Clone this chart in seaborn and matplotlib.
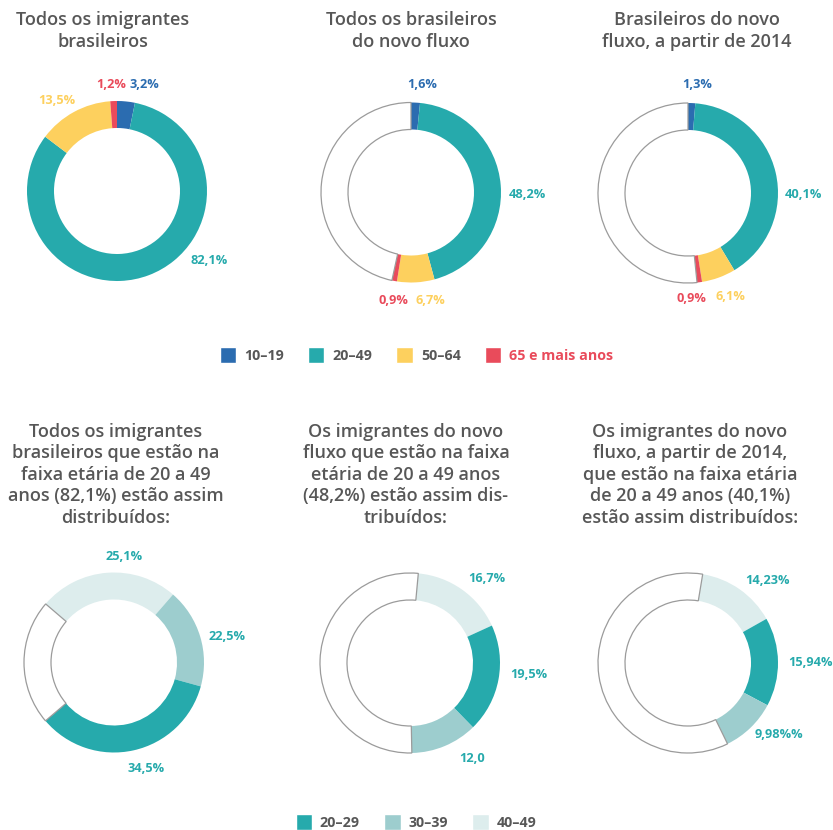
import matplotlib
matplotlib.use("Agg")
import matplotlib.pyplot as plt
from matplotlib.patches import Patch
import seaborn as sns

# faixas etárias (gráficos de cima)
faixas = ["10–19", "20–49", "50–64", "65 e mais anos"]
todos = [3.2, 82.1, 13.5, 1.2]
novo_fluxo = [1.6, 44.2, 6.7, 0.9]   # no original o arco 20-49 é menor que o rótulo 48,2%
desde_2014 = [1.3, 40.1, 6.1, 0.9]
rot_todos = ["3,2%", "82,1%", "13,5%", "1,2%"]
rot_novo_fluxo = ["1,6%", "48,2%", "6,7%", "0,9%"]
rot_desde_2014 = ["1,3%", "40,1%", "6,1%", "0,9%"]

# subfaixas de 20 a 49 anos (gráficos de baixo)
subfaixas = ["20–29", "30–39", "40–49"]
sub_todos = [34.5, 17.9, 25.1]       # no original o arco 30-39 é menor que o rótulo 22,5%
sub_novo_fluxo = [19.5, 12.0, 16.7]
sub_desde_2014 = [15.94, 9.98, 14.23]
rot_sub_todos = ["34,5%", "22,5%", "25,1%"]
rot_sub_novo_fluxo = ["19,5%", "12,0", "16,7%"]
rot_sub_desde_2014 = ["15,94%", "9,98%%", "14,23%"]

titulos = [
    "Todos os imigrantes\nbrasileiros",
    "Todos os brasileiros\ndo novo fluxo",
    "Brasileiros do novo\nfluxo, a partir de 2014",
    "Todos os imigrantes\nbrasileiros que estão na\nfaixa etária de 20 a 49\nanos (82,1%) estão assim\ndistribuídos:",
    "Os imigrantes do novo\nfluxo que estão na faixa\netária de 20 a 49 anos\n(48,2%) estão assim dis-\ntribuídos:",
    "Os imigrantes do novo\nfluxo, a partir de 2014,\nque estão na faixa etária\nde 20 a 49 anos (40,1%)\nestão assim distribuídos:",
]

sns.set_theme(style="white")
plt.rcParams["font.family"] = ["Open Sans", "DejaVu Sans"]

cores_faixas = sns.color_palette(["#2b6cb0", "#26aaac", "#fdd05e", "#e94b5b"])
cores_sub = sns.color_palette(["#26aaac", "#9dcdce", "#ddeded"])
cinza_texto = "#575757"
teal = "#26aaac"

W, H = 833, 830
R, LARG = 90, 27

fig = plt.figure(figsize=(8.33, 8.30), dpi=100)
ax = fig.add_axes([0, 0, 1, 1])


def donut(valores, cores, centro, inicio, ordem):
    vals = [valores[i] for i in ordem]
    cs = [cores[i] for i in ordem]
    resto = 100 - sum(vals)
    if resto > 0.05:
        vals.append(resto)
        cs.append("white")
    wedges, _ = ax.pie(vals, colors=cs, startangle=inicio, counterclock=False,
                       radius=R, center=(centro[0], H - centro[1]),
                       wedgeprops=dict(width=LARG, linewidth=0))
    if resto > 0.05:
        wedges[-1].set_edgecolor("#9b9b9b")
        wedges[-1].set_linewidth(0.9)


def rotulos(textos, cores, posicoes):
    for t, c, (x, y) in zip(textos, cores, posicoes):
        ax.text(x, H - y, t, color=c, ha="center", va="center",
                fontsize=9.2, fontweight="bold")


# linha de cima
donut(todos, cores_faixas, (117, 191), 90, [0, 1, 2, 3])
rotulos(rot_todos, cores_faixas, [(144, 85), (209, 261), (57, 100), (111, 85)])

donut(novo_fluxo, cores_faixas, (411, 192.5), 90, [0, 1, 2, 3])
rotulos(rot_novo_fluxo, cores_faixas, [(422, 85), (527, 194), (430, 300), (393, 300)])

donut(desde_2014, cores_faixas, (688, 193), 90, [0, 1, 2, 3])
rotulos(rot_desde_2014, cores_faixas, [(697, 85), (803, 194), (730, 297), (691, 299)])

# linha de baixo
donut(sub_todos, cores_sub, (114, 662.5), 139.4, [2, 1, 0])
rotulos(rot_sub_todos, [teal] * 3, [(146, 768), (227, 636), (124, 557)])

donut(sub_novo_fluxo, cores_sub, (410, 663), 84.7, [2, 0, 1])
rotulos(rot_sub_novo_fluxo, [teal] * 3, [(529, 674), (472, 759), (487, 578)])

donut(sub_desde_2014, cores_sub, (688, 663), 80.6, [2, 0, 1])
rotulos(rot_sub_desde_2014, [teal] * 3, [(810, 663), (779, 735), (767, 580)])

# títulos
pos_titulos = [(103, 31), (411, 31), (697, 31), (116, 475), (406, 475), (690, 475)]
for t, (x, y) in zip(titulos, pos_titulos):
    ax.text(x, H - y, t, ha="center", va="center", multialignment="center",
            fontsize=13.0, color=cinza_texto, linespacing=1.25,
            fontweight="semibold")

ax.set_xlim(0, W)
ax.set_ylim(0, H)
ax.axis("off")

# legendas
estilo_leg = dict(loc="center", frameon=False, prop=dict(size=10.3, weight="bold"),
                  labelcolor=cinza_texto, handlelength=1.15, handleheight=1.4,
                  handletextpad=0.55, columnspacing=1.7)

leg1 = fig.legend(handles=[Patch(facecolor=c, label=l) for c, l in zip(cores_faixas, faixas)],
                  bbox_to_anchor=(416.5 / W, 1 - 355 / H), ncol=4, **estilo_leg)
leg1.get_texts()[3].set_color(cores_faixas[3])

fig.legend(handles=[Patch(facecolor=c, label=l) for c, l in zip(cores_sub, subfaixas)],
           bbox_to_anchor=(416 / W, 1 - 822 / H), ncol=3, **estilo_leg)

fig.savefig("out.png", dpi=100)
